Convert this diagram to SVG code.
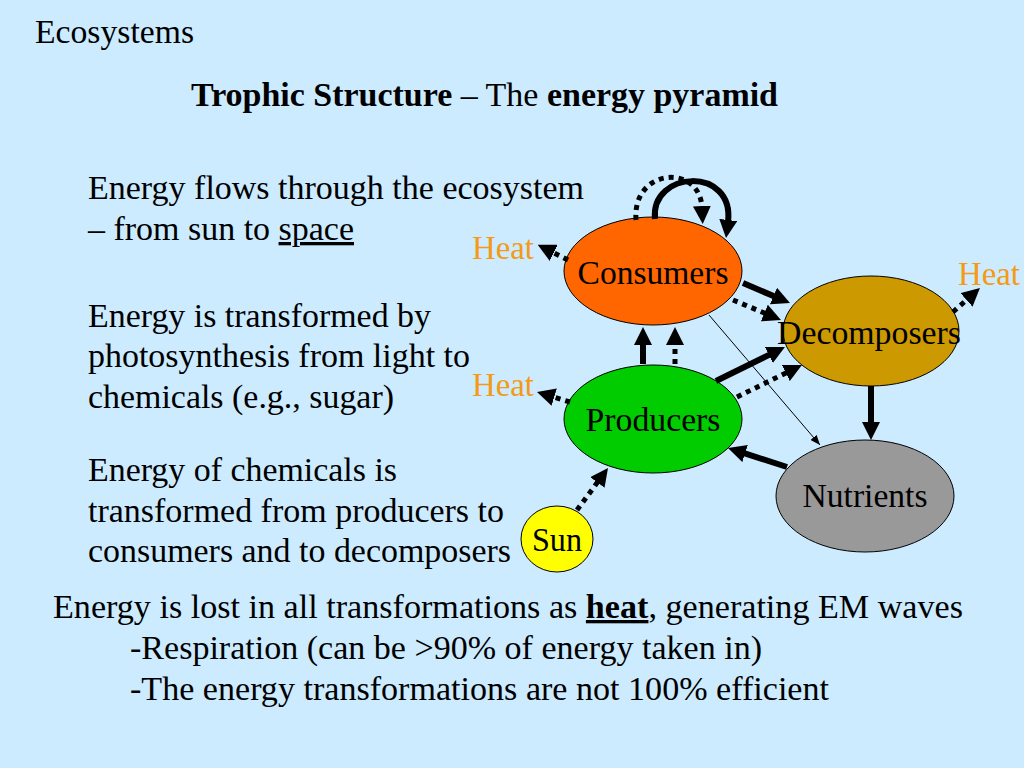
<svg xmlns="http://www.w3.org/2000/svg" width="1024" height="768" viewBox="0 0 1024 768">
<style>
text{font-family:'Liberation Serif','Times New Roman',Times,serif;fill:#000}
.t{font-size:33px}
.n{font-size:33px}
.heat{font-size:33px;fill:#F59A14}
.b{font-weight:bold}
.u{text-decoration:underline}
ellipse{stroke:#000;stroke-width:1}
.solid{fill:none;stroke:#000;stroke-width:6}
.dot{fill:none;stroke:#000;stroke-width:5;stroke-dasharray:5 5}
.thin{fill:none;stroke:#000;stroke-width:1}
</style>
<defs>
<marker id="ah" markerUnits="userSpaceOnUse" markerWidth="18" markerHeight="18" viewBox="0 0 18 18" refX="2" refY="9" orient="auto">
<path d="M0,0 L18,9 L0,18 z" fill="#000"/>
</marker>
<marker id="ahs" markerUnits="userSpaceOnUse" markerWidth="10" markerHeight="8" viewBox="0 0 10 8" refX="10" refY="4" orient="auto">
<path d="M0,0 L10,4 L0,8 z" fill="#000"/>
</marker>
</defs>
<rect x="0" y="0" width="1024" height="768" fill="#CCEBFF"/>

<g id="titles">
<text class="t" x="35" y="43" textLength="159" lengthAdjust="spacingAndGlyphs">Ecosystems</text>
<text class="t" x="191" y="106" textLength="587" lengthAdjust="spacingAndGlyphs"><tspan class="b">Trophic Structure</tspan> – The <tspan class="b">energy pyramid</tspan></text>
</g>

<g id="left-text">
<text class="t" x="88" y="199" textLength="496" lengthAdjust="spacingAndGlyphs">Energy flows through the ecosystem</text>
<text class="t" x="88" y="240" textLength="266" lengthAdjust="spacingAndGlyphs">– from sun to <tspan class="u">space</tspan></text>
<text class="t" x="88" y="327" textLength="343" lengthAdjust="spacingAndGlyphs">Energy is transformed by</text>
<text class="t" x="88" y="367" textLength="382" lengthAdjust="spacingAndGlyphs">photosynthesis from light to</text>
<text class="t" x="88" y="408" textLength="306" lengthAdjust="spacingAndGlyphs">chemicals (e.g., sugar)</text>
<text class="t" x="88" y="481" textLength="309" lengthAdjust="spacingAndGlyphs">Energy of chemicals is</text>
<text class="t" x="88" y="522" textLength="416" lengthAdjust="spacingAndGlyphs">transformed from producers to</text>
<text class="t" x="88" y="562" textLength="423" lengthAdjust="spacingAndGlyphs">consumers and to decomposers</text>
</g>

<g id="bottom-text">
<text class="t" x="53" y="618" textLength="910" lengthAdjust="spacingAndGlyphs">Energy is lost in all transformations as <tspan class="b u">heat</tspan>, generating EM waves</text>
<text class="t" x="130" y="659" textLength="632" lengthAdjust="spacingAndGlyphs">-Respiration (can be &gt;90% of energy taken in)</text>
<text class="t" x="130" y="700" textLength="699" lengthAdjust="spacingAndGlyphs">-The energy transformations are not 100% efficient</text>
</g>

<g id="node-consumers">
<ellipse cx="653" cy="271" rx="89" ry="54" fill="#FF6600"/>
<text class="n" x="653" y="284" text-anchor="middle" textLength="151" lengthAdjust="spacingAndGlyphs">Consumers</text>
</g>
<g id="node-decomposers">
<ellipse cx="871" cy="331" rx="88" ry="55" fill="#CC9900"/>
<text class="n" x="869" y="344" text-anchor="middle" textLength="184" lengthAdjust="spacingAndGlyphs">Decomposers</text>
</g>
<g id="node-producers">
<ellipse cx="653" cy="419" rx="89" ry="54" fill="#00CC00"/>
<text class="n" x="653" y="431" text-anchor="middle" textLength="135" lengthAdjust="spacingAndGlyphs">Producers</text>
</g>
<g id="node-nutrients">
<ellipse cx="865" cy="496" rx="89" ry="56" fill="#999999"/>
<text class="n" x="865" y="507" text-anchor="middle" textLength="125" lengthAdjust="spacingAndGlyphs">Nutrients</text>
</g>
<g id="node-sun">
<ellipse cx="557" cy="539" rx="36" ry="33" fill="#FFFF00"/>
<text class="n" x="557" y="551" text-anchor="middle" textLength="50" lengthAdjust="spacingAndGlyphs">Sun</text>
</g>

<g id="heat-labels">
<text class="heat" x="472" y="259" textLength="62" lengthAdjust="spacingAndGlyphs">Heat</text>
<text class="heat" x="472" y="396" textLength="62" lengthAdjust="spacingAndGlyphs">Heat</text>
<text class="heat" x="958" y="285" textLength="62" lengthAdjust="spacingAndGlyphs">Heat</text>
</g>

<g id="connectors">
<path class="solid" d="M655,219 C650,170 735,166 728,222" marker-end="url(#ah)"/>
<path class="dot" d="M636,220 C632,168 700,163 702,208" marker-end="url(#ah)"/>
<line class="dot" x1="568" y1="260" x2="552" y2="252" marker-end="url(#ah)"/>
<line class="solid" x1="743" y1="283" x2="775.3" y2="296.8" marker-end="url(#ah)"/>
<line class="dot" x1="733" y1="300" x2="766.2" y2="313.8" marker-end="url(#ah)"/>
<line class="solid" x1="643" y1="364" x2="643" y2="343" marker-end="url(#ah)"/>
<line class="dot" x1="675" y1="364" x2="675" y2="343" marker-end="url(#ah)"/>
<line class="solid" x1="716" y1="381" x2="770.6" y2="354.1" marker-end="url(#ah)"/>
<line class="dot" x1="737" y1="397" x2="787.6" y2="372.1" marker-end="url(#ah)"/>
<line class="thin" x1="709" y1="315" x2="820" y2="445" marker-end="url(#ahs)"/>
<line class="solid" x1="871" y1="386" x2="871" y2="424" marker-end="url(#ah)"/>
<line class="solid" x1="787" y1="467" x2="743.2" y2="452.9" marker-end="url(#ah)"/>
<line class="dot" x1="953" y1="312" x2="968" y2="298.6" marker-end="url(#ah)"/>
<line class="dot" x1="570" y1="402" x2="552.3" y2="396.6" marker-end="url(#ah)"/>
<line class="dot" x1="577" y1="510" x2="598.5" y2="480.9" marker-end="url(#ah)"/>
</g>
</svg>
